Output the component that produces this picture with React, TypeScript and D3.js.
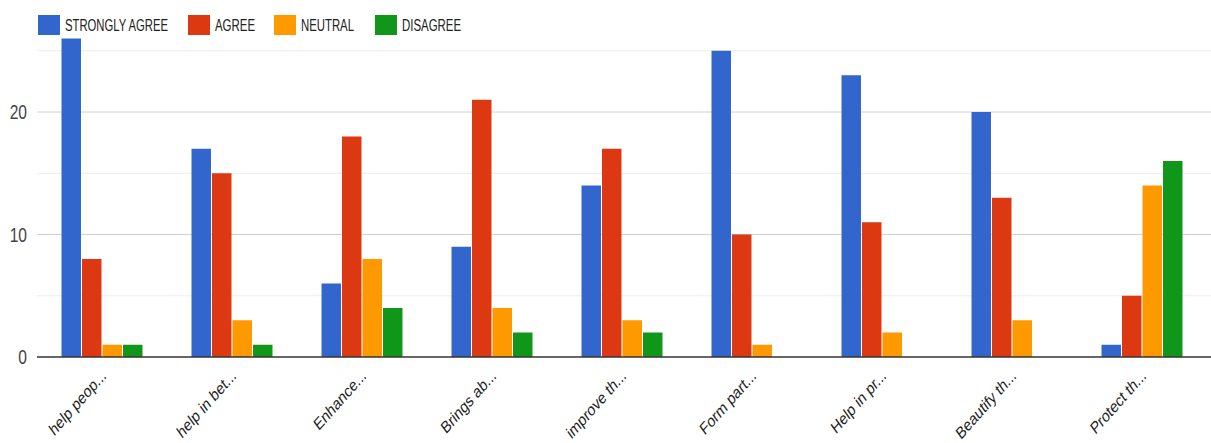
import * as d3 from "d3";

const categories = [
  "help peop...",
  "help in bet...",
  "Enhance...",
  "Brings ab...",
  "improve th...",
  "Form part...",
  "Help in pr...",
  "Beautify th...",
  "Protect th...",
];
const seriesNames = ["STRONGLY AGREE", "AGREE", "NEUTRAL", "DISAGREE"];
const stronglyAgree = [26, 17, 6, 9, 14, 25, 23, 20, 1];
const agree = [8, 15, 18, 21, 17, 10, 11, 13, 5];
const neutral = [1, 3, 8, 4, 3, 1, 2, 3, 14];
const disagree = [1, 1, 4, 2, 2, 0, 0, 0, 16];
const yTickLabels = [0, 10, 20];
const minorTicks = [5, 15, 25];

const colors = ["#3366CC", "#DC3912", "#FF9900", "#109618"];

export default function App() {
  const width = 1211;
  const height = 443;
  const margin = { top: 38, right: 4, bottom: 86, left: 37 };
  const baseY = 357;

  const series = [stronglyAgree, agree, neutral, disagree];

  const x0 = d3
    .scaleBand()
    .domain(categories)
    .range([margin.left, 1207])
    .paddingInner(0.377)
    .paddingOuter(0.1885);

  const x1 = d3
    .scaleBand()
    .domain(seriesNames)
    .range([0, x0.bandwidth()])
    .paddingInner(0.05);

  const y = d3.scaleLinear().domain([0, 20]).range([baseY, 112]);

  const legendX = [38, 188, 274, 375];
  const legendW = [103, 40, 53, 59];

  return (
    <svg
      width={width}
      height={height}
      style={{ position: "absolute", left: 0, top: 0, background: "#fff" }}
      fontFamily="Liberation Sans, Arial, sans-serif"
    >
      {/* minor grid */}
      {minorTicks.map((t) => (
        <line
          key={"m" + t}
          x1={margin.left}
          x2={width}
          y1={y(t)}
          y2={y(t)}
          stroke="#ececec"
        />
      ))}
      {/* major grid + labels */}
      {yTickLabels.map((t) => (
        <g key={t}>
          {t > 0 && (
            <line x1={margin.left} x2={width} y1={y(t)} y2={y(t)} stroke="#d0d0d0" />
          )}
          <text
            transform={`translate(27,${y(t) + 7}) scale(0.78,1)`}
            textAnchor="end"
            fontSize={20}
            fill="#444"
          >
            {t}
          </text>
        </g>
      ))}

      {/* bars */}
      {categories.map((c, i) => (
        <g key={c} transform={`translate(${x0(c)},0)`}>
          {series.map((s, j) =>
            s[i] > 0 ? (
              <rect
                key={j}
                x={x1(seriesNames[j])}
                y={y(s[i])}
                width={x1.bandwidth()}
                height={baseY - y(s[i])}
                fill={colors[j]}
              />
            ) : null
          )}
        </g>
      ))}

      {/* baseline */}
      <line x1={margin.left} x2={width} y1={baseY} y2={baseY} stroke="#333" strokeWidth={1.5} />

      {/* x labels */}
      {categories.map((c) => (
        <text
          key={"l" + c}
          transform={`translate(${(x0(c) as number) + x0.bandwidth() / 2 + 5},${baseY + 20}) scale(0.8,1) rotate(-42)`}
          textAnchor="end"
          fontSize={17}
          fill="#222"
        >
          {c}
        </text>
      ))}

      {/* legend */}
      {seriesNames.map((s, i) => (
        <g key={"lg" + s}>
          <rect x={legendX[i]} y={15} width={22} height={20} fill={colors[i]} />
          <text
            x={legendX[i] + 27}
            y={31}
            fontSize={16}
            fill="#222"
            textLength={legendW[i]}
            lengthAdjust="spacingAndGlyphs"
          >
            {s}
          </text>
        </g>
      ))}
    </svg>
  );
}
